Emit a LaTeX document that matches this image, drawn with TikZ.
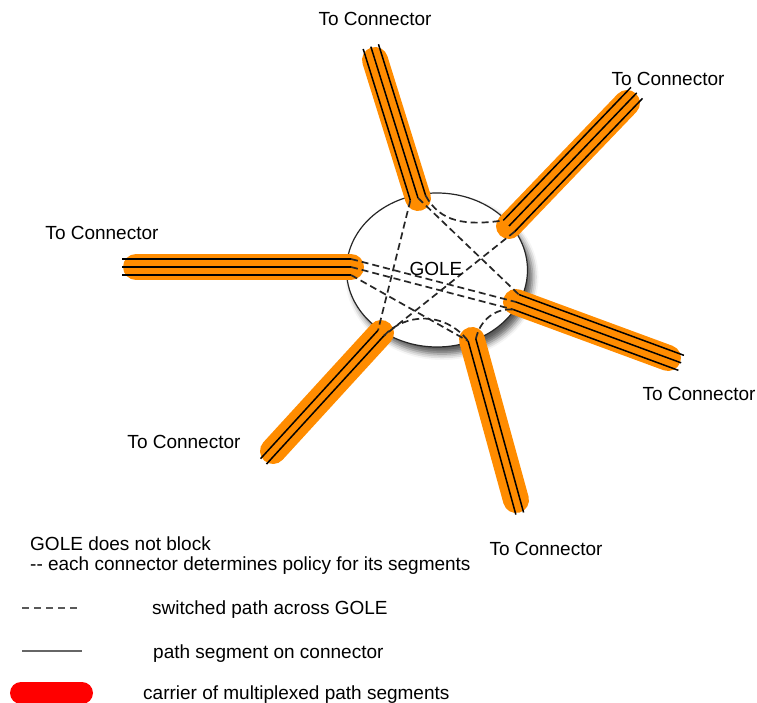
\documentclass[tikz,border=0pt]{standalone}
\usepackage{fontspec}
\setmainfont{Liberation Sans}
\usetikzlibrary{calc,shapes.geometric,shadows.blur}
\definecolor{carrierorange}{RGB}{255,140,0}
\definecolor{legendred}{RGB}{255,0,0}

% One connector: orange carrier with its path segments.
% #1 name, #2 outer end, #3 end at the GOLE, #4 offsets of the segments
\newcommand\carrierline[4]{%
  \coordinate (#1out) at #2;
  \coordinate (#1in) at #3;
  \draw[carrier] (#1out) -- (#1in);
  \foreach \o [count=\k] in {#4} {
    \coordinate (#1\k) at ($(#1in)!\o!-90:(#1out)$);
    \draw[segline, shorten <=-14pt] ($(#1out)!\o!90:(#1in)$) -- (#1\k);
  }%
}

\begin{document}
\begin{tikzpicture}[x=1pt,y=-1pt,
  carrier/.style={line width=26pt, line cap=round, carrierorange},
  segline/.style={line width=1.5pt, black},
  switched/.style={line width=1.7pt, black!85, dash pattern=on 7pt off 4pt},
  lbl/.style={font=\fontsize{19}{23}\selectfont, inner sep=0pt},
]
\useasboundingbox (0,0) rectangle (757,703);

% the GOLE
\node[ellipse, draw=black!85, line width=1.2pt, fill=white,
      minimum width=181pt, minimum height=154pt, inner sep=0pt,
      blur shadow={shadow xshift=5pt, shadow yshift=-7pt,
                   shadow blur radius=6pt, shadow opacity=65}]
      (gole) at (437,270) {};

% connectors
\carrierline{T}{(375,60)}{(418,198)}{-8pt,0pt,8pt}
\carrierline{TR}{(627,103)}{(509,226)}{-8pt,0pt,8pt}
\carrierline{L}{(136,267)}{(351,267)}{-8pt,0pt,8pt}
\carrierline{R}{(668,358)}{(516,302)}{-8pt,0pt,8pt}
\carrierline{LL}{(273,451)}{(381,333)}{-4pt,4pt}
\carrierline{B}{(516,500)}{(472,340)}{-4pt,4pt}

% switched paths across the GOLE
\draw[switched] (T3) .. controls (440,222) and (465,226) .. (TR1);
\draw[switched] (T2) -- (R1);
\draw[switched] (T1) -- (LL2);
\draw[switched] (TR3) -- (LL1);
\draw[switched] (L3) -- (R2);
\draw[switched] (L2) -- (R3);
\draw[switched] (L1) -- (B2);
\draw[switched] (LL1) .. controls (405,313) and (445,311) .. (B2);
\draw[switched] (B1) .. controls (480,320) and (495,308) .. (R3);

\node[lbl] (golelabel) at (436,269) {GOLE};

% connector labels
\node[lbl, anchor=base] (toT)  at (375,26)  {To Connector};
\node[lbl, anchor=base] (toTR) at (668,86)  {To Connector};
\node[lbl, anchor=base] (toL)  at (102,240) {To Connector};
\node[lbl, anchor=base] (toR)  at (699,400) {To Connector};
\node[lbl, anchor=base] (toLL) at (184,448) {To Connector};
\node[lbl, anchor=base] (toB)  at (546,555) {To Connector};

% legend
\node[lbl, anchor=base west] (note1) at (30,550) {GOLE does not block};
\node[lbl, anchor=base west] (note2) at (30,570) {-{}- each connector determines policy for its segments};

\coordinate (dashA) at (22,608);
\coordinate (dashB) at (80,608);
\draw[line width=1.6pt, black!65, dash pattern=on 7pt off 5pt] (dashA) -- (dashB);
\node[lbl, anchor=base west] (keydash) at (152,614) {switched path across GOLE};

\coordinate (solidA) at (22,651);
\coordinate (solidB) at (82,651);
\draw[line width=2pt, black!60] (solidA) -- (solidB);
\node[lbl, anchor=base west] (keysolid) at (153,658) {path segment on connector};

\coordinate (barA) at (21,693);
\coordinate (barB) at (82,693);
\draw[line width=22pt, line cap=round, legendred] (barA) -- (barB);
\node[lbl, anchor=base west] (keybar) at (143,699) {carrier of multiplexed path segments};
\end{tikzpicture}
\end{document}
